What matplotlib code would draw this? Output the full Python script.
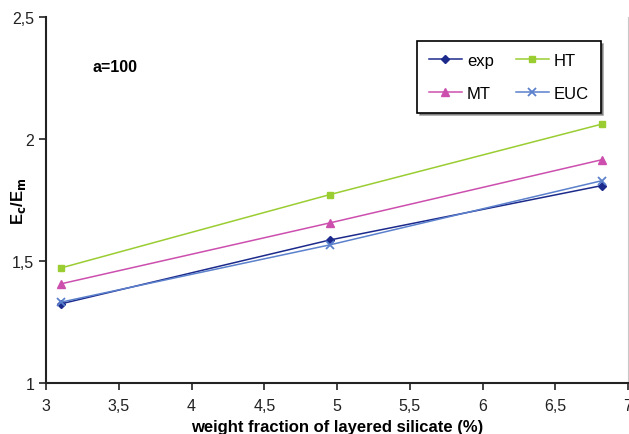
import matplotlib.pyplot as plt
from matplotlib.ticker import FuncFormatter

plt.rcParams['font.family'] = ['Liberation Sans', 'DejaVu Sans']

wf = [3.1, 4.95, 6.82]
exp = [1.324, 1.586, 1.809]
ht = [1.471, 1.772, 2.061]
mt = [1.406, 1.656, 1.915]
euc = [1.331, 1.566, 1.829]

fig = plt.figure(figsize=(6.29, 4.35), dpi=100)
ax = fig.add_axes([46/629, 1 - 384/435, (628-46)/629, (384-18)/435])

l_exp, = ax.plot(wf, exp, color='#1c2a8c', marker='D', ms=4.5, lw=1.1, label='exp')
l_ht, = ax.plot(wf, ht, color='#9acd32', marker='s', ms=5, lw=1.1, label='HT')
l_mt, = ax.plot(wf, mt, color='#cc4fae', marker='^', ms=6, lw=1.1, label='MT')
l_euc, = ax.plot(wf, euc, color='#5b80cc', marker='x', ms=6, mew=1.3, lw=1.1, label='EUC')

ax.set_xlim(3, 7)
ax.set_ylim(1, 2.5)
ax.set_xticks([3, 3.5, 4, 4.5, 5, 5.5, 6, 6.5, 7])
ax.set_yticks([1, 1.5, 2, 2.5])
fmt = FuncFormatter(lambda v, p: ('%g' % v).replace('.', ','))
ax.xaxis.set_major_formatter(fmt)
ax.yaxis.set_major_formatter(fmt)
ax.tick_params(labelsize=11.5, length=5, width=1.2, colors='#222222')
ax.tick_params(axis='x', pad=6)

for s in ['left', 'bottom']:
    ax.spines[s].set_linewidth(1.5)
    ax.spines[s].set_color('#222222')
ax.spines['top'].set_visible(False)
ax.spines['right'].set_color('#c8c8c8')

ax.set_xlabel('weight fraction of layered silicate (%)', fontsize=12, fontweight='bold', labelpad=4)
ax.set_ylabel(r'E$_\mathbf{c}$/E$_\mathbf{m}$', fontsize=12, fontweight='bold')
ax.yaxis.set_label_coords((28 - 46) / 582, 0.5)

ax.text(115, 435 - 68, 'a=100', transform=None, fontsize=11.5, fontweight='bold', ha='center', va='center')

leg = ax.legend([l_exp, l_mt, l_ht, l_euc], ['exp', 'MT', 'HT', 'EUC'],
                ncol=2, loc='upper left', bbox_to_anchor=((417-46)/582, 1 - (42-18)/366),
                frameon=True, fancybox=False, shadow=True, fontsize=12,
                handlelength=2.0, columnspacing=1.3, labelspacing=1.1, borderpad=0.7,
                handletextpad=0.3, borderaxespad=0)
leg.get_frame().set_edgecolor('black')
leg.get_frame().set_linewidth(1.2)

fig.savefig('out.png', dpi=100)
